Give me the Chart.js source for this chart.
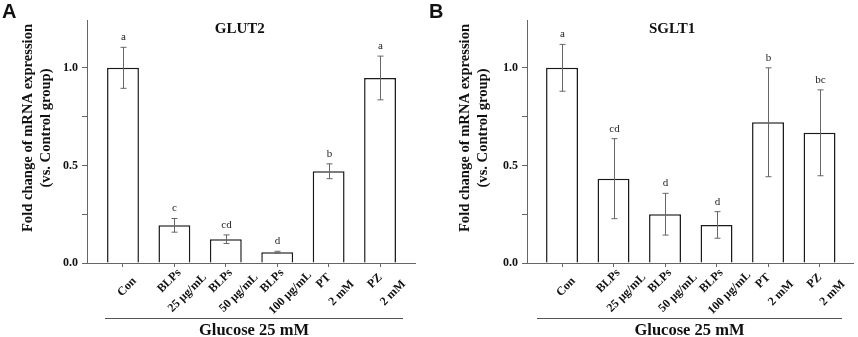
<!DOCTYPE html>
<html>
<head>
<meta charset="utf-8">
<script src="https://cdn.jsdelivr.net/npm/chart.js@4.4.1/dist/chart.umd.min.js"></script>
<style>
  body { margin: 0; background: #fff; }
  .panel { position: absolute; top: 0; width: 429px; height: 337px; }
</style>
</head>
<body>
<div class="panel" style="left:0"><canvas id="chartA" width="429" height="337"></canvas></div>
<div class="panel" style="left:429px"><canvas id="chartB" width="429" height="337"></canvas></div>
<script>
const categories = [['Con'], ['BLPs', '25 μg/mL'], ['BLPs', '50 μg/mL'], ['BLPs', '100 μg/mL'], ['PT', '2 mM'], ['PZ', '2 mM']]
const groupLabel = 'Glucose 25 mM'
const yTitle = ['Fold change of mRNA expression', '(vs. Control group)']

const glut2Means = [1.0, 0.193, 0.122, 0.055, 0.470, 0.948]
const glut2Errors = [0.105, 0.035, 0.022, 0.005, 0.038, 0.112]
const glut2Letters = ['a', 'c', 'cd', 'd', 'b', 'a']

const sglt1Means = [1.0, 0.432, 0.250, 0.195, 0.721, 0.667]
const sglt1Errors = [0.12, 0.205, 0.107, 0.068, 0.279, 0.22]
const sglt1Letters = ['a', 'cd', 'd', 'd', 'b', 'bc']

const yTicks = [0, 0.25, 0.5, 0.75, 1.0]
const yTickLabels = ['0.0', '', '0.5', '', '1.0']

const serif = '"Liberation Serif", "Times New Roman", serif'
Chart.defaults.font.family = serif
Chart.defaults.color = '#111'

// error bars, letters, rotated x labels, group bracket, titles
function extras(cfg) {
  return {
    id: 'extras',
    afterDatasetsDraw(chart) {
      let ctx = chart.ctx
      let x = chart.scales.x
      let y = chart.scales.y
      ctx.save()
      cfg.means.forEach((m, i) => {
        let px = Math.round(x.getPixelForValue(i)) + 0.5
        let top = y.getPixelForValue(m + cfg.errors[i])
        let bot = y.getPixelForValue(m - cfg.errors[i])
        ctx.strokeStyle = '#666'
        ctx.lineWidth = 1
        ctx.beginPath()
        ctx.moveTo(px, top); ctx.lineTo(px, bot)
        ctx.moveTo(px - 3, top); ctx.lineTo(px + 3, top)
        ctx.moveTo(px - 3, bot); ctx.lineTo(px + 3, bot)
        ctx.stroke()
        ctx.fillStyle = '#222'
        ctx.font = '11px ' + serif
        ctx.textAlign = 'center'
        ctx.textBaseline = 'alphabetic'
        ctx.fillText(cfg.letters[i], px, top - 7)
      })

      // x tick labels, two lines, rotated 45deg
      ctx.fillStyle = '#111'
      ctx.font = 'bold 12px ' + serif
      ctx.textAlign = 'center'
      ctx.textBaseline = 'middle'
      categories.forEach((lines, i) => {
        let px = x.getPixelForValue(i)
        lines.forEach((t, j) => {
          let k = j - (lines.length - 1) / 2
          ctx.save()
          ctx.translate(px + 4 + k * 18, x.top + 24 + k * 12)
          ctx.rotate(-Math.PI / 4)
          ctx.fillText(t, 0, 0)
          ctx.restore()
        })
      })

      // y axis title
      ctx.font = 'bold 14.6px ' + serif
      yTitle.forEach((t, j) => {
        ctx.save()
        ctx.translate(cfg.yTitleX + j * 17.5, 128)
        ctx.rotate(-Math.PI / 2)
        ctx.fillText(t, 0, 0)
        ctx.restore()
      })

      // bracket line + group label
      let l = x.left + cfg.lineLeft
      let r = x.right - cfg.lineRight
      ctx.strokeStyle = '#555'
      ctx.lineWidth = 1
      ctx.beginPath()
      ctx.moveTo(l, 318.5)
      ctx.lineTo(r, 318.5)
      ctx.stroke()
      ctx.font = 'bold 16.5px ' + serif
      ctx.textBaseline = 'alphabetic'
      ctx.fillText(groupLabel, (l + r) / 2, 335)

      let area = chart.chartArea
      ctx.font = 'bold 15px ' + serif
      ctx.fillText(cfg.title, area.left + cfg.titleFrac * (area.right - area.left), 33)

      ctx.font = 'bold 20px "Liberation Sans", Arial, sans-serif'
      ctx.textAlign = 'left'
      ctx.textBaseline = 'top'
      ctx.fillText(cfg.panel, cfg.panelX, 2)
      ctx.restore()
    }
  }
}

function makeChart(id, means, cfg) {
  return new Chart(document.getElementById(id).getContext('2d'), {
    type: 'bar',
    data: {
      datasets: [{
        data: means.map((v, i) => ({ x: i, y: v })),
        backgroundColor: '#fff',
        borderColor: '#1a1a1a',
        borderWidth: 1.5,
        barPercentage: 0.62,
        categoryPercentage: 1
      }]
    },
    options: {
      responsive: false,
      animation: false,
      layout: { padding: cfg.padding },
      plugins: { legend: { display: false }, tooltip: { enabled: false } },
      scales: {
        x: {
          type: 'linear',
          offset: false,
          min: cfg.xMin,
          max: cfg.xMax,
          afterBuildTicks: s => { s.ticks = categories.map((c, i) => ({ value: i })) },
          afterFit: s => { s.height = 74 },
          ticks: { display: false },
          grid: { drawOnChartArea: false, offset: false, tickLength: 4, color: '#666' },
          border: { color: '#666', width: 1 }
        },
        y: {
          min: 0,
          max: 1.245,
          afterBuildTicks: s => { s.ticks = yTicks.map(v => ({ value: v })) },
          afterFit: s => { s.width = cfg.yWidth },
          ticks: {
            callback: (v, i) => yTickLabels[i],
            padding: 4,
            color: '#111',
            font: { size: 12, weight: 'bold' }
          },
          grid: { drawOnChartArea: false, tickLength: 5, color: '#666' },
          border: { color: '#666', width: 1 }
        }
      }
    },
    plugins: [extras(cfg)]
  })
}

makeChart('chartA', glut2Means, {
  means: glut2Means, errors: glut2Errors, letters: glut2Letters,
  title: 'GLUT2', titleFrac: 0.466, panel: 'A', panelX: 2, yTitleX: 28.5,
  padding: { left: 21, top: 20, right: 14, bottom: 0 }, yWidth: 66,
  xMin: -0.7, xMax: 5.68, lineLeft: 18, lineRight: 12
})

makeChart('chartB', sglt1Means, {
  means: sglt1Means, errors: sglt1Errors, letters: sglt1Letters,
  title: 'SGLT1', titleFrac: 0.445, panel: 'B', panelX: 0, yTitleX: 36.5,
  padding: { left: 29, top: 20, right: 5, bottom: 0 }, yWidth: 69,
  xMin: -0.68, xMax: 5.65, lineLeft: 10, lineRight: 11
})
</script>
</body>
</html>
